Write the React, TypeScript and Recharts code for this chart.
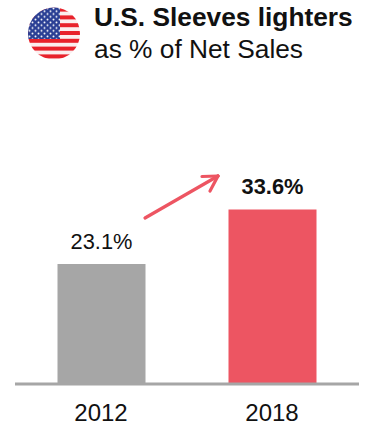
import { BarChart, Bar, XAxis, YAxis, Cell, LabelList } from "recharts";

const years = ["2012", "2018"];
const sharePct = [23.1, 33.6];
const barColors = ["#a6a6a6", "#ed5562"];
const labelWeights = ["normal", "bold"];

const chartData = years.map((year, i) => ({ year, share: sharePct[i] }));

const FONT = '"Liberation Sans", Arial, sans-serif';

function ShareLabel({ x, y, width, value, index }: any) {
  return (
    <text
      x={x + width / 2}
      y={y - 15}
      textAnchor="middle"
      fontFamily={FONT}
      fontSize={21.8}
      fontWeight={labelWeights[index]}
      fill="#111"
    >
      {`${value.toFixed(1)}%`}
    </text>
  );
}

// Round US flag, stripes and canton clipped to a circle
function FlagBadge() {
  const stripeRows = [0, 1, 2, 3, 4, 5, 6];
  return (
    <svg width={60} height={60} style={{ position: "absolute", left: 24, top: 4 }}>
      <defs>
        <clipPath id="flagCircle">
          <circle cx={30} cy={29.5} r={26} />
        </clipPath>
        <pattern id="flagStars" width={6} height={5.6} patternUnits="userSpaceOnUse" x={4} y={3}>
          <circle cx={1.5} cy={1.4} r={1} fill="#fff" />
          <circle cx={4.5} cy={4.2} r={1} fill="#fff" />
        </pattern>
      </defs>
      <g clipPath="url(#flagCircle)">
        <rect x={0} y={0} width={60} height={60} fill="#fbeeee" />
        {stripeRows.map((row) => (
          <rect key={row} x={0} y={3.6 + row * 7.8} width={60} height={4} fill="#e8222b" />
        ))}
        <rect x={0} y={0} width={36} height={35} fill="#2a3f94" />
        <rect x={0} y={0} width={36} height={35} fill="url(#flagStars)" />
      </g>
    </svg>
  );
}

function TrendArrow() {
  return (
    <svg width={374} height={425} style={{ position: "absolute", left: 0, top: 0, pointerEvents: "none" }}>
      <g stroke="#ed5562" strokeWidth={3.2} strokeLinecap="round" fill="none">
        <line x1={145} y1={218} x2={218} y2={176} />
        <line x1={202} y1={176.5} x2={218} y2={176} />
        <line x1={210} y1={191} x2={218} y2={176} />
      </g>
    </svg>
  );
}

export default function App() {
  return (
    <div
      style={{
        position: "absolute",
        left: 0,
        top: 0,
        width: 374,
        height: 425,
        background: "#fff",
        overflow: "hidden",
        fontFamily: FONT,
      }}
    >
      <BarChart
        width={374}
        height={425}
        data={chartData}
        margin={{ top: 0, right: 15, bottom: 0, left: 15 }}
      >
        <XAxis
          dataKey="year"
          padding={{ left: 0.5, right: 1.5 }}
          axisLine={{ stroke: "#a6a6a6", strokeWidth: 3 }}
          tickLine={false}
          tick={{ fontFamily: FONT, fontSize: 24, fill: "#111" }}
          tickMargin={14}
          height={41}
        />
        <YAxis hide domain={[0, 73.9]} />
        <Bar dataKey="share" barSize={88} isAnimationActive={false}>
          {chartData.map((d, i) => (
            <Cell key={d.year} fill={barColors[i]} />
          ))}
          <LabelList dataKey="share" content={<ShareLabel />} />
        </Bar>
      </BarChart>

      <FlagBadge />
      <TrendArrow />

      <div style={{ position: "absolute", left: 94, top: 2, fontSize: 26.3, fontWeight: "bold", color: "#111", whiteSpace: "nowrap", lineHeight: "30px" }}>
        U.S. Sleeves lighters
      </div>
      <div style={{ position: "absolute", left: 94, top: 34, fontSize: 26.3, color: "#111", whiteSpace: "nowrap", lineHeight: "30px" }}>
        as % of Net Sales
      </div>
    </div>
  );
}
